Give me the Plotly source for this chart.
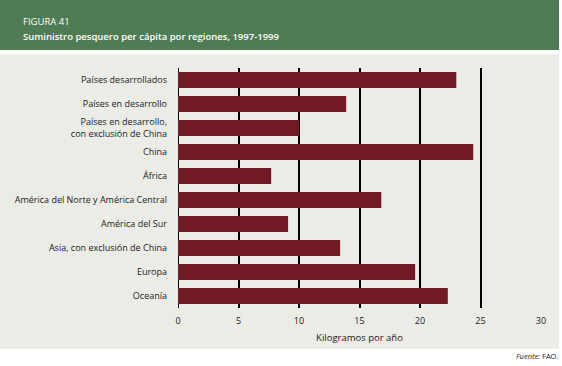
import plotly.graph_objects as go

categories = [
    "Países desarrollados",
    "Países en desarrollo",
    "Países en desarrollo,<br>con exclusión de China",
    "China",
    "África",
    "América del Norte y América Central",
    "América del Sur",
    "Asia, con exclusión de China",
    "Europa",
    "Oceanía",
]
values = [23.0, 13.9, 10.0, 24.4, 7.7, 16.8, 9.1, 13.4, 19.6, 22.3]
x_ticks = [0, 5, 10, 15, 20, 25, 30]

FONT = "Open Sans"
BAR = "#701B25"
GREEN = "#507C55"
PANEL = "#EBECE6"
TXT = "#1A1A1A"

# plot area in pixels: x 178..541, y 68..308
L, R, T, B = 178, 541, 68, 308
W, H = R - L, B - T

def px(x):
    return (x - L) / W

def py(y):
    return (B - y) / H

fig = go.Figure(
    go.Bar(
        x=values,
        y=categories,
        orientation="h",
        marker=dict(color=BAR, line=dict(width=0)),
        width=0.67,
        hoverinfo="x+y",
    )
)

fig.update_layout(
    width=562,
    height=366,
    margin=dict(l=L, r=562 - R, t=T, b=366 - B, pad=0),
    paper_bgcolor="white",
    plot_bgcolor="rgba(0,0,0,0)",
    showlegend=False,
    font=dict(family=FONT, size=9, color=TXT),
    shapes=[
        dict(type="rect", xref="paper", yref="paper", x0=px(0), x1=px(559),
             y0=py(50), y1=py(0), fillcolor=GREEN, line=dict(width=0), layer="below"),
        dict(type="rect", xref="paper", yref="paper", x0=px(0), x1=px(559),
             y0=py(349), y1=py(54), fillcolor=PANEL, line=dict(width=0), layer="below"),
    ],
    annotations=[
        dict(text="FIGURA 41", xref="paper", yref="paper", x=px(21), y=py(21),
             xanchor="left", yanchor="middle", showarrow=False,
             font=dict(family=FONT, size=9.5, color="white")),
        dict(text="Suministro pesquero per cápita por regiones, 1997-1999", xref="paper",
             yref="paper", x=px(21), y=py(36), xanchor="left", yanchor="middle",
             showarrow=False, font=dict(family=FONT, size=9.5, color="white", weight=600)),
        dict(text="<i>Fuente:</i> FAO.", xref="paper", yref="paper", x=px(560), y=py(356),
             xanchor="right", yanchor="middle", showarrow=False,
             font=dict(family=FONT, size=7.5, color=TXT)),
    ],
    bargap=0.33,
)

fig.update_xaxes(
    range=[0, 30],
    tickvals=x_ticks,
    ticktext=[str(v) for v in x_ticks],
    showgrid=True,
    gridcolor="black",
    gridwidth=2,
    zeroline=True,
    zerolinecolor="black",
    zerolinewidth=1.2,
    showline=False,
    ticks="",
    ticklabelstandoff=6,
    tickfont=dict(family=FONT, size=9, color=TXT),
    title=dict(text="Kilogramos por año", font=dict(family=FONT, size=9.5, color=TXT), standoff=8),
    fixedrange=True,
)
fig.update_yaxes(
    autorange="reversed",
    showgrid=False,
    ticks="",
    ticklabelstandoff=10,
    tickfont=dict(family=FONT, size=9, color=TXT),
    fixedrange=True,
)

fig.write_html(
    "out.html",
    config={"displayModeBar": False},
    post_script="document.body.style.margin='0px';document.body.style.overflow='hidden';",
)
